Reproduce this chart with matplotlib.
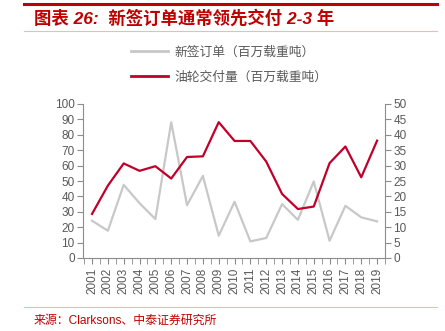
import matplotlib.pyplot as plt
import matplotlib
from matplotlib.lines import Line2D

matplotlib.rcParams['font.family'] = ['Liberation Sans', 'Noto Sans CJK SC', 'DejaVu Sans']

# 数据
years = [str(y) for y in range(2001, 2020)]
new_orders = [24.2, 17.7, 47.5, 35.6, 25.3, 88.1, 34.3, 53.3, 14.5, 36.5,
              10.8, 13.0, 35.0, 24.8, 49.7, 11.2, 33.9, 26.4, 23.8]
deliveries = [14.3, 23.5, 30.7, 28.3, 29.8, 25.8, 32.8, 33.0, 44.1, 38.0,
              38.0, 31.3, 20.8, 15.9, 16.7, 30.8, 36.2, 26.2, 38.1]

title = '图表 26:  新签订单通常领先交付 2-3 年'
source = '来源：Clarksons、中泰证券研究所'
label1 = '新签订单（百万载重吨）'
label2 = '油轮交付量（百万载重吨）'

gray = '#C8C8C8'
red = '#C0002A'
axis_gray = '#8C8C8C'
text_gray = '#595959'

fig = plt.figure(figsize=(4.45, 3.31), dpi=100)
ax1 = fig.add_axes([83 / 445, 1 - 258 / 331, (385 - 83) / 445, (258 - 104) / 331])
ax2 = ax1.twinx()

x = list(range(len(years)))
ax1.plot(x, new_orders, color=gray, lw=1.6)
ax2.plot(x, deliveries, color=red, lw=1.6)

ax1.set_ylim(0, 100)
ax2.set_ylim(0, 50)
ax1.set_yticks(range(0, 101, 10))
ax2.set_yticks(range(0, 51, 5))
ax1.set_xlim(-0.57, 18.45)
ax1.set_xticks(x)
ax1.set_xticklabels(years, rotation=90)
ax1.set_xticks([i + 0.5 for i in range(-1, 19)], minor=True)
ax1.tick_params(axis='x', which='major', length=0, pad=3)
ax1.tick_params(axis='x', which='minor', length=4, color=axis_gray, direction='out')

for ax in (ax1, ax2):
    for s in ax.spines.values():
        s.set_visible(False)
    ax.tick_params(axis='both', labelsize=8.5, labelcolor=text_gray, color=axis_gray, length=4)
ax1.spines['left'].set_visible(True)
ax1.spines['bottom'].set_visible(True)
ax2.spines['right'].set_visible(True)
for s in (ax1.spines['left'], ax1.spines['bottom'], ax2.spines['right']):
    s.set_color(axis_gray)
    s.set_linewidth(0.8)
ax1.tick_params(axis='y', pad=2)
ax2.tick_params(axis='y', pad=2)

# 图例
handles = [Line2D([], [], color=gray, lw=2), Line2D([], [], color=red, lw=2)]
fig.legend(handles, [label1, label2], loc='center', bbox_to_anchor=(0.515, 1 - 65 / 331),
           frameon=False, fontsize=9.2, labelcolor=text_gray, handlelength=2.9,
           labelspacing=1.05, handletextpad=0.5)

# 标题与来源
fig.add_artist(Line2D([24 / 445, 437 / 445], [1 - 4 / 331, 1 - 4 / 331], color='#C00000', lw=2.2))
fig.add_artist(Line2D([24 / 445, 437 / 445], [1 - 31 / 331, 1 - 31 / 331], color='#F0B8B8', lw=0.8))
fig.add_artist(Line2D([24 / 445, 437 / 445], [1 - 307 / 331, 1 - 307 / 331], color='#F0B8B8', lw=0.8))
fig.text(34 / 445, 1 - 18 / 331, title, color='#C00000', fontsize=12.5, fontweight='bold',
         fontstyle='italic', va='center', ha='left')
fig.text(34 / 445, 1 - 321 / 331, source, color='#C00000', fontsize=8.6, va='center', ha='left')

fig.savefig('out.png', dpi=100)
